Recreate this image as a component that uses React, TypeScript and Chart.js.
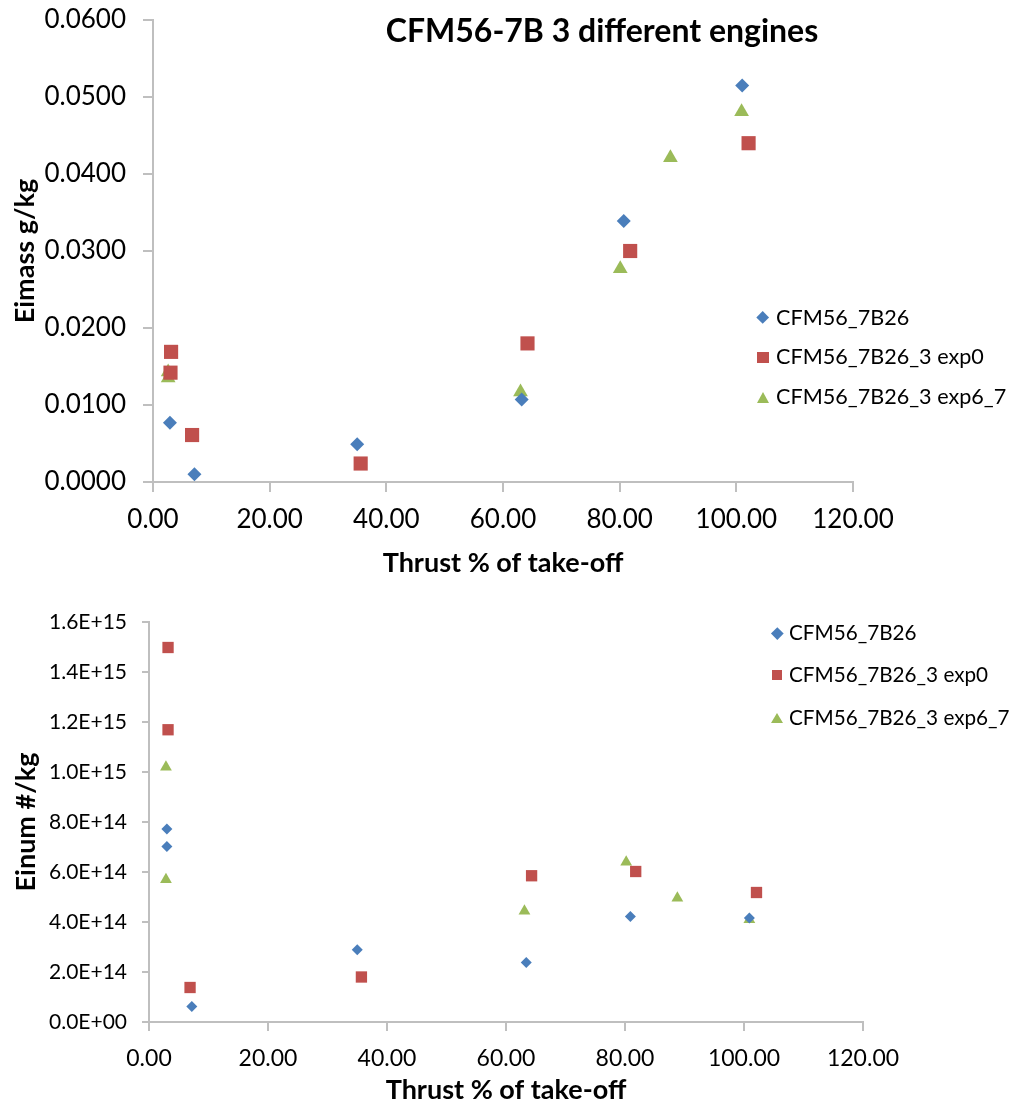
import React, { useEffect, useRef } from "react";
import { Chart, registerables } from "chart.js";
Chart.register(...registerables);

const SERIES_NAMES = ["CFM56_7B26", "CFM56_7B26_3 exp0", "CFM56_7B26_3 exp6_7"];
const COLORS = ["#4A7EBB", "#C0504D", "#9BBB59"];
const SHAPES = ["rectRot", "rect", "triangle"];

const TITLE_TOP = "CFM56-7B 3 different engines";
const X_TITLE = "Thrust % of take-off";
const Y_TITLE_TOP = "Eimass g/kg";
const Y_TITLE_BOTTOM = "Einum #/kg";

// Top chart: Eimass
const massX_7B26 = [2.9, 7.1, 35.0, 63.2, 80.7, 101.0];
const massY_7B26 = [0.0077, 0.001, 0.0049, 0.0107, 0.0339, 0.0515];
const massX_exp0 = [3.1, 3.0, 6.7, 35.6, 64.2, 81.8, 102.1];
const massY_exp0 = [0.0169, 0.0142, 0.0061, 0.0024, 0.018, 0.03, 0.044];
const massX_exp67 = [2.6, 2.6, 63.0, 80.1, 88.7, 100.9];
const massY_exp67 = [0.0143, 0.0135, 0.0117, 0.0277, 0.0421, 0.0481];

// Bottom chart: Einum
const numX_7B26 = [3.0, 3.0, 7.2, 35.0, 63.4, 80.9, 100.9];
const numY_7B26 = [7.72e14, 7.02e14, 0.62e14, 2.89e14, 2.38e14, 4.22e14, 4.16e14];
const numX_exp0 = [3.2, 3.2, 6.9, 35.7, 64.3, 81.8, 102.1];
const numY_exp0 = [1.498e15, 1.169e15, 1.38e14, 1.8e14, 5.85e14, 6.02e14, 5.18e14];
const numX_exp67 = [2.85, 2.85, 63.1, 80.2, 88.8, 100.9];
const numY_exp67 = [1.02e15, 5.7e14, 4.44e14, 6.4e14, 4.96e14, 4.1e14];

const X_MIN = 0, X_MAX = 120, X_STEP = 20;
const MASS_MIN = 0, MASS_MAX = 0.06, MASS_STEP = 0.01;
const NUM_MIN = 0, NUM_MAX = 1.6e15, NUM_STEP = 2e14;

const FONT = "Lato, 'Open Sans', sans-serif";
const AXIS_COLOR = "#bfbfbf";

const zip = (xs: number[], ys: number[]) => xs.map((x, i) => ({ x, y: ys[i] }));

const fmtExp = (v: number) => {
  if (v === 0) return "0.0E+00";
  const s = v.toExponential(1);
  const [m, e] = s.split("e");
  const sign = e[0] === "-" ? "-" : "+";
  const digits = e.replace(/[+-]/, "").padStart(2, "0");
  return `${m}E${sign}${digits}`;
};

type Cfg = {
  width: number;
  height: number;
  area: { left: number; top: number; right: number; bottom: number };
  series: { x: number[]; y: number[] }[];
  radii: number[];
  yMin: number; yMax: number; yStep: number;
  yFmt: (v: number) => string;
  yTitle: string;
  xTickFont: number;
  yTickFont: number;
  titleFont: number;
  yTickLen: number; xTickLen: number;
  yLabelPad: number; xLabelPad: number;
  yTitlePad: number; xTitlePad: number;
  chartTitle?: { text: string; x: number; y: number; size: number };
};

function ScatterChart({ cfg }: { cfg: Cfg }) {
  const ref = useRef<HTMLCanvasElement | null>(null);
  useEffect(() => {
    if (!ref.current) return;
    const a = cfg.area;
    const titlePlugin = {
      id: "floatTitle",
      afterDraw(chart: any) {
        if (!cfg.chartTitle) return;
        const ctx = chart.ctx;
        ctx.save();
        ctx.font = `bold ${cfg.chartTitle.size}px ${FONT}`;
        ctx.fillStyle = "#000";
        ctx.textAlign = "center";
        ctx.textBaseline = "middle";
        ctx.fillText(cfg.chartTitle.text, cfg.chartTitle.x, cfg.chartTitle.y);
        ctx.restore();
      },
    };
    const chart = new Chart(ref.current, {
      type: "scatter",
      data: {
        datasets: cfg.series.map((s, i) => ({
          label: SERIES_NAMES[i],
          data: zip(s.x, s.y),
          pointStyle: SHAPES[i] as any,
          pointRadius: cfg.radii[i],
          pointHoverRadius: cfg.radii[i],
          backgroundColor: COLORS[i],
          borderColor: COLORS[i],
          borderWidth: 0,
        })),
      },
      options: {
        animation: false,
        responsive: false,
        maintainAspectRatio: false,
        layout: { padding: { left: 0, top: a.top, right: cfg.width - a.right, bottom: 0 } },
        plugins: { legend: { display: false }, tooltip: { enabled: false }, title: { display: false } },
        scales: {
          x: {
            type: "linear",
            min: X_MIN, max: X_MAX,
            afterFit: (s: any) => { s.height = cfg.height - a.bottom; s.paddingLeft = 0; s.paddingRight = 0; },
            ticks: {
              stepSize: X_STEP,
              callback: (v: any) => Number(v).toFixed(2),
              font: { family: FONT, size: cfg.xTickFont },
              color: "#000",
              padding: cfg.xLabelPad,
              maxRotation: 0,
            },
            grid: { display: true, drawOnChartArea: false, drawTicks: true, tickLength: cfg.xTickLen, color: AXIS_COLOR, lineWidth: 2 },
            border: { display: true, color: AXIS_COLOR, width: 2 },
            title: { display: true, text: X_TITLE, font: { family: FONT, size: cfg.titleFont, weight: "bold" }, color: "#000", padding: { top: 0, bottom: cfg.xTitlePad } },
          },
          y: {
            type: "linear",
            min: cfg.yMin, max: cfg.yMax,
            afterFit: (s: any) => { s.width = a.left; s.paddingTop = 0; s.paddingBottom = 0; },
            ticks: {
              stepSize: cfg.yStep,
              callback: (v: any) => cfg.yFmt(Number(v)),
              font: { family: FONT, size: cfg.yTickFont },
              color: "#000",
              padding: cfg.yLabelPad,
            },
            grid: { display: true, drawOnChartArea: false, drawTicks: true, tickLength: cfg.yTickLen, color: AXIS_COLOR, lineWidth: 2 },
            border: { display: true, color: AXIS_COLOR, width: 2 },
            title: { display: true, text: cfg.yTitle, font: { family: FONT, size: cfg.titleFont, weight: "bold" }, color: "#000", padding: { top: cfg.yTitlePad, bottom: 0 } },
          },
        },
      },
      plugins: [titlePlugin],
    });
    return () => chart.destroy();
  }, [cfg]);
  return <canvas ref={ref} width={cfg.width} height={cfg.height} style={{ display: "block", width: cfg.width, height: cfg.height }} />;
}

function Marker({ i, size }: { i: number; size: number }) {
  const c = COLORS[i];
  if (SHAPES[i] === "rectRot") {
    const s = size * 0.72;
    return <span style={{ display: "inline-block", width: s, height: s, background: c, transform: "rotate(45deg)" }} />;
  }
  if (SHAPES[i] === "rect") {
    return <span style={{ display: "inline-block", width: size * 0.85, height: size * 0.85, background: c }} />;
  }
  return (
    <span style={{ display: "inline-block", width: 0, height: 0, borderLeft: `${size / 2}px solid transparent`, borderRight: `${size / 2}px solid transparent`, borderBottom: `${size * 0.9}px solid ${c}` }} />
  );
}

function Legend({ left, top, rowGap, fontSize, markerSize, textOffset }: { left: number; top: number; rowGap: number; fontSize: number; markerSize: number; textOffset: number }) {
  return (
    <div style={{ position: "absolute", left, top, fontFamily: FONT, fontSize, color: "#000" }}>
      {SERIES_NAMES.map((n, i) => (
        <div key={n} style={{ position: "absolute", left: 0, top: i * rowGap, height: 0, whiteSpace: "nowrap" }}>
          <div style={{ position: "absolute", left: -markerSize / 2, top: -markerSize / 2, width: markerSize, height: markerSize, display: "flex", alignItems: "center", justifyContent: "center" }}>
            <Marker i={i} size={markerSize} />
          </div>
          <div style={{ position: "absolute", left: textOffset, top: -fontSize * 0.62, lineHeight: `${fontSize * 1.2}px` }}>{n}</div>
        </div>
      ))}
    </div>
  );
}

const TOP_CFG: Cfg = {
  width: 1011, height: 590,
  area: { left: 153, top: 20, right: 853, bottom: 482 },
  series: [
    { x: massX_7B26, y: massY_7B26 },
    { x: massX_exp0, y: massY_exp0 },
    { x: massX_exp67, y: massY_exp67 },
  ],
  radii: [7, 10, 8.5],
  yMin: MASS_MIN, yMax: MASS_MAX, yStep: MASS_STEP,
  yFmt: (v) => v.toFixed(4),
  yTitle: Y_TITLE_TOP,
  xTickFont: 26, yTickFont: 26, titleFont: 27,
  yTickLen: 10, xTickLen: 10,
  yLabelPad: 17, xLabelPad: 12,
  yTitlePad: 9, xTitlePad: 11,
  chartTitle: { text: TITLE_TOP, x: 602, y: 32, size: 32 },
};

const BOTTOM_CFG: Cfg = {
  width: 1011, height: 521,
  area: { left: 149, top: 32, right: 863, bottom: 432 },
  series: [
    { x: numX_7B26, y: numY_7B26 },
    { x: numX_exp0, y: numY_exp0 },
    { x: numX_exp67, y: numY_exp67 },
  ],
  radii: [5.5, 8, 6.8],
  yMin: NUM_MIN, yMax: NUM_MAX, yStep: NUM_STEP,
  yFmt: fmtExp,
  yTitle: Y_TITLE_BOTTOM,
  xTickFont: 23, yTickFont: 21, titleFont: 27,
  yTickLen: 7, xTickLen: 9,
  yLabelPad: 15, xLabelPad: 14,
  yTitlePad: 10, xTitlePad: 5,
};

export default function App() {
  return (
    <div style={{ position: "absolute", left: 0, top: 0, width: 1011, height: 1111, background: "#fff", overflow: "hidden" }}>
      <div style={{ position: "absolute", left: 0, top: 0 }}>
        <ScatterChart cfg={TOP_CFG} />
      </div>
      <div style={{ position: "absolute", left: 0, top: 590 }}>
        <ScatterChart cfg={BOTTOM_CFG} />
      </div>
      <Legend left={763} top={318} rowGap={39.5} fontSize={21.6} markerSize={13} textOffset={13} />
      <Legend left={777} top={633} rowGap={42.3} fontSize={20.7} markerSize={12} textOffset={12} />
    </div>
  );
}
